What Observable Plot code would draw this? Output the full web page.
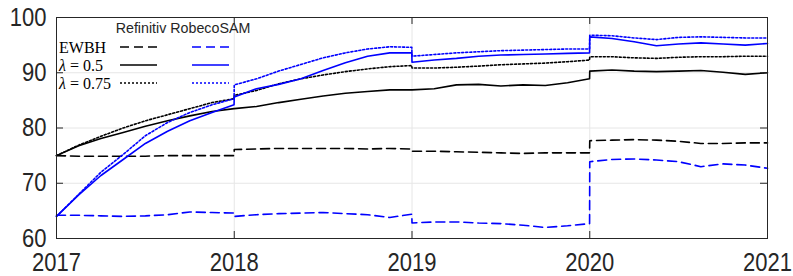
<!DOCTYPE html>
<html>
<head>
<meta charset="utf-8">
<script src="https://cdn.jsdelivr.net/npm/d3@7"></script>
<script src="https://cdn.jsdelivr.net/npm/@observablehq/plot@0.6"></script>
<style>
  html, body { margin: 0; padding: 0; background: #fff; }
  #chart { width: 793px; height: 276px; }
</style>
</head>
<body>
<div id="chart"></div>
<script>
// Time grid (fractional years); duplicated points just before year boundaries carry the jumps
const t = [
  2017, 2017.125, 2017.25, 2017.375, 2017.5, 2017.625, 2017.75, 2017.875, 2017.999,
  2018, 2018.125, 2018.25, 2018.375, 2018.5, 2018.625, 2018.75, 2018.875, 2018.999,
  2019, 2019.125, 2019.25, 2019.375, 2019.5, 2019.625, 2019.75, 2019.875, 2019.999,
  2020, 2020.125, 2020.25, 2020.375, 2020.5, 2020.625, 2020.75, 2020.875, 2021
];

// Refinitiv (black)
const refEWBH = [
  75.0, 74.9, 74.9, 74.9, 74.9, 75.0, 75.0, 75.0, 75.0,
  76.1, 76.2, 76.3, 76.3, 76.3, 76.3, 76.2, 76.3, 76.2,
  75.8, 75.8, 75.7, 75.6, 75.5, 75.4, 75.5, 75.5, 75.5,
  77.7, 77.8, 77.9, 77.8, 77.6, 77.2, 77.2, 77.3, 77.3
];
const refL05 = [
  75.0, 76.8, 78.1, 79.2, 80.3, 81.3, 82.2, 83.0, 83.5,
  83.5, 83.9, 84.6, 85.2, 85.8, 86.3, 86.6, 86.9, 86.9,
  86.9, 87.1, 87.8, 87.9, 87.6, 87.8, 87.7, 88.2, 88.9,
  90.3, 90.5, 90.3, 90.2, 90.3, 90.4, 90.1, 89.7, 90.0
];
const refL075 = [
  75.0, 76.9, 78.5, 80.0, 81.3, 82.4, 83.5, 84.6, 85.3,
  85.9, 86.8, 88.0, 88.9, 89.6, 90.2, 90.7, 91.1, 91.3,
  90.85, 90.85, 91.0, 91.2, 91.45, 91.6, 91.75, 92.0, 92.3,
  92.9, 92.9, 92.7, 92.6, 92.8, 92.9, 92.9, 93.0, 93.0
];

// RobecoSAM (blue)
const robEWBH = [
  64.2, 64.2, 64.1, 64.0, 64.1, 64.3, 64.8, 64.7, 64.6,
  64.0, 64.3, 64.5, 64.6, 64.7, 64.5, 64.3, 63.8, 64.4,
  62.8, 63.0, 63.0, 62.8, 62.7, 62.4, 62.0, 62.3, 62.7,
  73.9, 74.3, 74.4, 74.2, 73.9, 73.0, 73.5, 73.3, 72.7
];
const robL05 = [
  64.0, 67.9, 71.4, 74.3, 77.2, 79.4, 81.3, 82.8, 84.2,
  85.6, 87.1, 87.9, 88.9, 90.4, 91.8, 93.0, 93.6, 93.6,
  91.9, 92.3, 92.6, 93.0, 93.2, 93.3, 93.4, 93.5, 93.6,
  96.5, 96.2, 95.6, 94.9, 95.2, 95.4, 95.2, 95.0, 95.3
];
const robL075 = [
  64.0, 68.0, 72.0, 75.2, 78.6, 81.0, 82.8, 84.2, 85.3,
  87.8, 88.9, 90.3, 91.5, 92.7, 93.6, 94.3, 94.7, 94.6,
  93.0, 93.3, 93.6, 93.8, 94.0, 94.1, 94.2, 94.3, 94.3,
  96.8, 96.7, 96.3, 96.0, 96.4, 96.5, 96.4, 96.3, 96.3
];

const xTicks = [2017, 2018, 2019, 2020, 2021];
const yTicks = [60, 70, 80, 90, 100];
const sourceLabels = ["Refinitiv", "RobecoSAM"];
const rowLabels = ["EWBH", "λ = 0.5", "λ = 0.75"];

const W = 793, H = 276;
const mL = 56, mR = 26, mT = 17, mB = 38;
const pw = W - mL - mR, ph = H - mT - mB;
const AX = "#262626";
const GRID = "#e6e6e6";
const BLUE = "#0000ff";
const DASH = "9,5";
const DOT = "2,2";
const LW = 1.6;
const SANS = "'Liberation Sans', Arial, Helvetica, sans-serif";

const toRows = (vals) => t.map((x, i) => ({x, y: vals[i]}));
const series = [
  {vals: refEWBH, stroke: "#000", dash: DASH},
  {vals: refL05, stroke: "#000", dash: null},
  {vals: refL075, stroke: "#000", dash: DOT},
  {vals: robEWBH, stroke: BLUE, dash: DASH},
  {vals: robL05, stroke: BLUE, dash: null},
  {vals: robL075, stroke: BLUE, dash: DOT}
];

const plot = Plot.plot({
  width: W, height: H,
  marginLeft: mL, marginRight: mR, marginTop: mT, marginBottom: mB,
  style: {fontFamily: SANS, fontSize: "25px", color: AX, background: "#fff"},
  x: {domain: [2017, 2021], ticks: xTicks, tickFormat: "d", label: null},
  y: {domain: [60, 100], ticks: yTicks, label: null},
  marks: [
    Plot.gridX(xTicks, {stroke: GRID, strokeOpacity: 1}),
    Plot.gridY(yTicks, {stroke: GRID, strokeOpacity: 1}),
    ...series.map(s => Plot.line(toRows(s.vals), {
      x: "x", y: "y", stroke: s.stroke, strokeWidth: LW,
      strokeDasharray: s.dash ?? undefined, curve: "linear"
    })),
    // inward ticks
    Plot.tickX(xTicks, {x: d => d, stroke: AX, insetTop: ph - 7}),
    Plot.tickX(xTicks, {x: d => d, stroke: AX, insetBottom: ph - 7}),
    Plot.tickY(yTicks, {y: d => d, stroke: AX, insetRight: pw - 7}),
    Plot.tickY(yTicks, {y: d => d, stroke: AX, insetLeft: pw - 7}),
    Plot.axisX(xTicks, {tickSize: 0, tickPadding: 15, fontSize: 25, tickFormat: "d", fill: AX, label: null}),
    Plot.axisY(yTicks, {tickSize: 0, tickPadding: 10, fontSize: 25, fill: AX, label: null}),
    Plot.frame({stroke: AX, strokeWidth: 1})
  ]
});
document.getElementById("chart").append(plot);

const svg = d3.select(plot);

// Horizontally condense a text element about its own anchor point
function condense(el, k) {
  const x = +(el.getAttribute("x") || 0);
  const tr = el.getAttribute("transform") || "";
  el.setAttribute("transform", `${tr} translate(${x},0) scale(${k},1) translate(${-x},0)`);
}
svg.selectAll('g[aria-label="x-axis tick label"] text, g[aria-label="y-axis tick label"] text')
  .each(function() { condense(this, 0.88); });

// Legend (MATLAB style, no box)
const lg = svg.append("g").attr("class", "legend").attr("text-anchor", "start");
const header = lg.append("text")
  .attr("x", 183).attr("y", 28).attr("dy", "0.35em")
  .attr("text-anchor", "middle")
  .attr("font-family", SANS)
  .attr("font-size", 15.5).attr("fill", AX)
  .text(sourceLabels.join(" "));
condense(header.node(), 0.92);
const rowY = [47, 65, 83];
const dashes = [DASH, null, DOT];
rowLabels.forEach((lab, i) => {
  const txt = lg.append("text")
    .attr("x", 59).attr("y", rowY[i]).attr("dy", "0.35em")
    .attr("text-anchor", "start")
    .attr("font-family", "'Liberation Serif', 'Times New Roman', serif")
    .attr("font-size", 16).attr("fill", "#000");
  if (lab.startsWith("λ")) {
    txt.append("tspan").attr("font-style", "italic").text("λ");
    txt.append("tspan").text(lab.slice(1));
  } else {
    txt.text(lab);
  }
  [["#000", 120, 157], [BLUE, 192, 229]].forEach(([c, x1, x2]) => {
    lg.append("line")
      .attr("x1", x1).attr("x2", x2).attr("y1", rowY[i]).attr("y2", rowY[i])
      .attr("stroke", c).attr("stroke-width", LW)
      .attr("stroke-dasharray", dashes[i]);
  });
});
</script>
</body>
</html>
